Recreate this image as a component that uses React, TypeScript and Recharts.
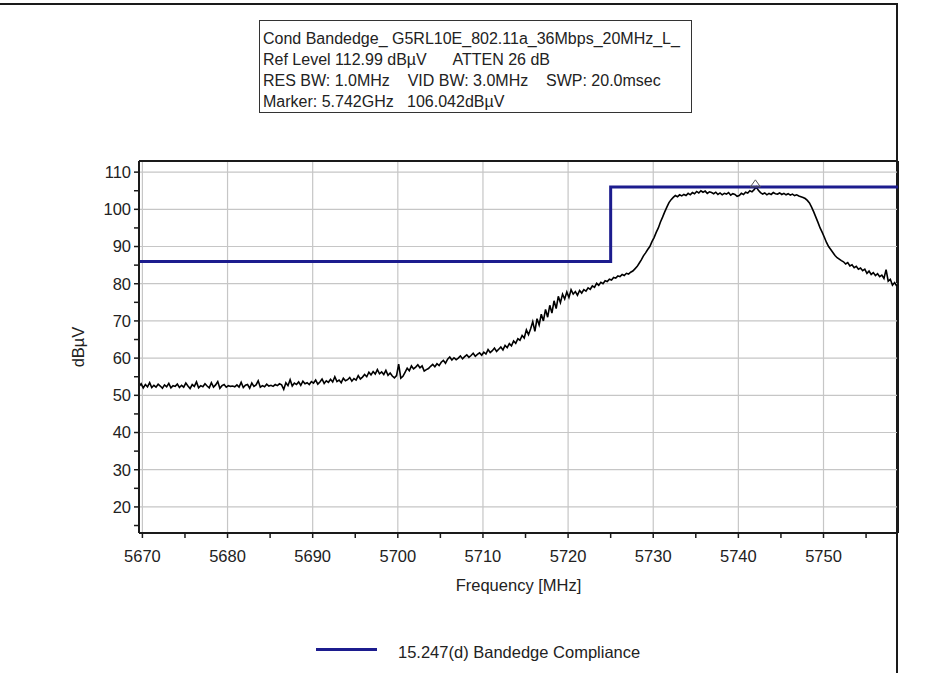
import React from 'react';
import { LineChart, Line, XAxis, YAxis, CartesianGrid, ReferenceLine, ReferenceDot } from 'recharts';

// Spectrum analyser sweep: evenly spaced points starting at sweepStartMHz
const sweepStartMHz = 5669.6;
const sweepStepMHz = 0.25;

// Measured level at each sweep point (dBµV)
const traceLevels = [
  52.4, 53.1, 52.0, 52.9, 52.3, 53.4, 52.1, 52.7, 52.2, 53.0,
  52.5, 51.9, 52.8, 52.3, 53.2, 52.0, 52.6, 52.4, 53.0, 52.1,
  52.7, 52.2, 53.3, 52.5, 51.8, 52.9, 52.4, 53.6, 52.0, 52.6,
  52.3, 53.1, 52.5, 52.0, 53.4, 52.2, 52.8, 53.7, 51.9, 52.6,
  52.9, 52.2, 52.6, 52.4, 52.5, 52.3, 52.8, 52.2, 53.5, 52.1,
  52.7, 52.9, 51.9, 53.3, 52.4, 52.8, 53.9, 52.2, 52.6, 52.3,
  53.0, 52.5, 52.7, 52.4, 52.9, 52.6, 53.1, 52.8, 51.6, 53.4,
  52.6, 54.2, 52.5, 53.3, 52.9, 53.6, 52.7, 53.8, 53.1, 53.4,
  52.9, 53.7, 53.3, 54.1, 53.0, 53.6, 54.4, 53.2, 53.9, 53.5,
  54.3, 53.6, 55.0, 53.7, 54.1, 53.4, 54.6, 53.9, 54.2, 54.8,
  53.8, 54.5, 54.1, 55.3, 54.4, 54.9, 55.6, 55.0, 56.2, 55.5,
  56.4, 55.7, 56.9, 55.8, 56.3, 55.6, 56.7, 55.4, 56.0, 55.2,
  54.7, 55.3, 58.4, 54.6, 55.1, 56.2, 57.3, 56.6, 57.9, 57.1,
  57.6, 58.2, 57.4, 57.9, 56.5, 56.9, 57.2, 57.8, 58.3, 57.7,
  58.5, 58.0, 58.9, 59.4, 58.6, 59.7, 60.3, 59.5, 60.1, 59.6,
  60.0, 60.6, 59.8, 60.4, 60.9, 60.2, 60.7, 61.3, 60.5, 61.0,
  61.4, 60.8, 61.6, 61.1, 62.3, 61.5, 62.0, 62.7, 61.8, 62.4,
  63.0, 62.2, 63.4, 62.8, 63.9, 63.3, 64.6, 64.0, 65.2, 64.8,
  66.1, 65.4, 67.6, 66.3, 67.9, 69.8, 67.2, 70.6, 68.9, 71.8,
  70.0, 73.1, 71.0, 74.2, 72.1, 75.4, 73.3, 76.6, 74.9, 77.2,
  75.9, 77.8, 76.3, 78.4, 77.2, 77.9, 76.9, 78.2, 77.5, 78.4,
  78.0, 78.9, 78.5, 79.4, 79.0, 80.1, 79.6, 80.4, 80.0, 80.8,
  80.6, 81.2, 81.0, 81.7, 81.5, 82.1, 81.9, 82.5, 82.2, 82.8,
  82.6, 83.1, 83.4, 84.0, 84.6, 85.5, 86.4, 87.5, 88.3, 89.2,
  90.0, 91.3, 92.4, 93.8, 95.0, 96.6, 97.9, 99.3, 100.6, 101.8,
  102.6, 103.2, 103.7, 103.4, 103.9, 103.6, 104.0, 103.7, 104.3, 103.9,
  104.5, 104.2, 104.8, 104.4, 105.0, 104.6, 104.9, 104.3, 104.7, 104.5,
  104.2, 104.6, 104.0, 104.4, 103.9, 104.3, 104.1, 104.5, 103.8, 104.2,
  104.0, 103.5, 103.7, 104.3, 104.0, 104.6, 104.4, 105.0, 104.7, 105.3,
  106.04, 105.1, 104.5, 104.1, 104.4, 103.9, 104.3, 104.0, 104.5, 104.2,
  104.1, 104.4, 104.0, 104.3, 103.9, 104.2, 103.8, 104.1, 103.7, 103.9,
  103.6, 103.4, 103.2, 102.9, 102.4, 101.7, 100.6, 99.3, 97.9, 96.5,
  95.0, 93.8, 92.5, 91.1, 90.0, 89.2, 88.4, 87.6, 87.0, 86.6,
  86.2, 85.9, 85.3, 85.7, 84.8, 85.1, 84.3, 84.7, 83.9, 84.2,
  83.5, 83.9, 82.8, 83.4, 82.5, 83.0, 82.2, 82.7, 81.9, 82.3,
  81.4, 83.8, 80.7, 81.2, 79.6, 80.3, 79.4,
];

// 15.247(d) band-edge limit: breakpoints (MHz) and levels (dBµV), held until the next breakpoint
const limitFreqs = [5669.6, 5725, 5758.75];
const limitLevels = [86, 106, 106];

// Marker readout
const markerFreqMHz = 5742;
const markerLevel = 106.042;

// Axes
const freqDomain = [5669.6, 5758.75];
const levelDomain = [12.99, 112.99];
const freqTicks = [5670, 5675, 5680, 5685, 5690, 5695, 5700, 5705, 5710, 5715, 5720, 5725, 5730, 5735, 5740, 5745, 5750, 5755];
const freqLabels = [5670, 5680, 5690, 5700, 5710, 5720, 5730, 5740, 5750];
const levelTicks = [15, 20, 25, 30, 35, 40, 45, 50, 55, 60, 65, 70, 75, 80, 85, 90, 95, 100, 105, 110];
const levelLabels = [20, 30, 40, 50, 60, 70, 80, 90, 100, 110];

const headerLines = [
  'Cond Bandedge_ G5RL10E_802.11a_36Mbps_20MHz_L_',
  'Ref Level 112.99 dBµV      ATTEN 26 dB',
  'RES BW: 1.0MHz    VID BW: 3.0MHz    SWP: 20.0msec',
  'Marker: 5.742GHz   106.042dBµV',
];
const limitName = '15.247(d) Bandedge Compliance';

const traceData = traceLevels.map((level, i) => ({ freq: sweepStartMHz + i * sweepStepMHz, level }));
const limitData = limitFreqs.map((freq, i) => ({ freq, level: limitLevels[i] }));

const FONT = '"Liberation Sans", Arial, sans-serif';
const LIMIT_COLOR = '#1c1c8e';
const GRID_COLOR = '#c6c6c6';
const INK = '#1a1a1a';

const MarkerTriangle = (props: any) => {
  const { cx, cy } = props;
  if (cx == null || cy == null) return null;
  return (
    <path
      d={`M${cx - 5},${cy} L${cx},${cy - 7} L${cx + 5},${cy} Z`}
      fill="none"
      stroke="#555"
      strokeWidth={1}
    />
  );
};

export default function App() {
  return (
    <div style={{ position: 'absolute', left: 0, top: 0, width: 943, height: 673, background: '#fff', fontFamily: FONT }}>
      {/* window frame */}
      <div style={{ position: 'absolute', left: 0, top: 3, width: 898, height: 2, background: INK }} />
      <div style={{ position: 'absolute', left: 896, top: 3, width: 2, height: 670, background: INK }} />

      <LineChart
        width={943}
        height={673}
        margin={{ top: 161, right: 45, bottom: 80, left: 79 }}
        style={{ position: 'absolute', left: 0, top: 0, fontFamily: FONT }}
      >
        <CartesianGrid
          stroke={GRID_COLOR}
          strokeWidth={1.2}
          verticalValues={freqLabels}
          horizontalValues={levelLabels}
        />
        <XAxis
          dataKey="freq"
          type="number"
          domain={freqDomain}
          allowDataOverflow
          ticks={freqTicks}
          interval={0}
          tickFormatter={(v: number) => (freqLabels.includes(v) ? String(v) : '')}
          height={60}
          tickSize={5}
          tickMargin={12}
          axisLine={{ stroke: INK, strokeWidth: 2 }}
          tickLine={{ stroke: INK, strokeWidth: 1.5 }}
          tick={{ fill: '#222', fontSize: 16.5, fontFamily: FONT }}
          label={{ value: 'Frequency [MHz]', position: 'insideBottom', offset: 2, fill: '#222', fontSize: 16.5, fontFamily: FONT }}
        />
        <YAxis
          type="number"
          domain={levelDomain}
          allowDataOverflow
          ticks={levelTicks}
          interval={0}
          tickFormatter={(v: number) => (levelLabels.includes(v) ? String(v) : '')}
          width={60}
          tickSize={5}
          tickMargin={3}
          axisLine={{ stroke: INK, strokeWidth: 2 }}
          tickLine={{ stroke: INK, strokeWidth: 1.5 }}
          tick={{ fill: '#222', fontSize: 16.5, fontFamily: FONT }}
          label={{ value: 'dBµV', angle: -90, position: 'center', dx: -31, fill: '#222', fontSize: 16.5, fontFamily: FONT }}
        />
        {/* top and right edges of the plot frame */}
        <ReferenceLine y={levelDomain[1]} stroke={INK} strokeWidth={2} />
        <ReferenceLine x={freqDomain[1]} stroke={INK} strokeWidth={2} />

        <Line
          data={traceData}
          dataKey="level"
          type="linear"
          stroke="#000"
          strokeWidth={1.6}
          dot={false}
          isAnimationActive={false}
        />
        <Line
          data={limitData}
          dataKey="level"
          type="stepAfter"
          stroke={LIMIT_COLOR}
          strokeWidth={3}
          dot={false}
          isAnimationActive={false}
        />
        <ReferenceDot x={markerFreqMHz} y={markerLevel} shape={MarkerTriangle} />
      </LineChart>

      {/* measurement header */}
      <div
        style={{
          position: 'absolute',
          left: 259,
          top: 20,
          width: 433,
          height: 93,
          border: '1.5px solid #333',
          padding: '7px 0 0 3px',
          boxSizing: 'border-box',
          fontSize: 16,
          lineHeight: '21px',
          color: '#222',
          whiteSpace: 'pre',
          background: '#fff',
        }}
      >
        {headerLines.map((t) => (
          <div key={t}>{t}</div>
        ))}
      </div>

      {/* legend */}
      <div style={{ position: 'absolute', left: 316, top: 648, width: 61, height: 3, background: LIMIT_COLOR }} />
      <div style={{ position: 'absolute', left: 398, top: 642, fontSize: 16.5, lineHeight: '20px', color: '#222', whiteSpace: 'pre' }}>
        {limitName}
      </div>
    </div>
  );
}
